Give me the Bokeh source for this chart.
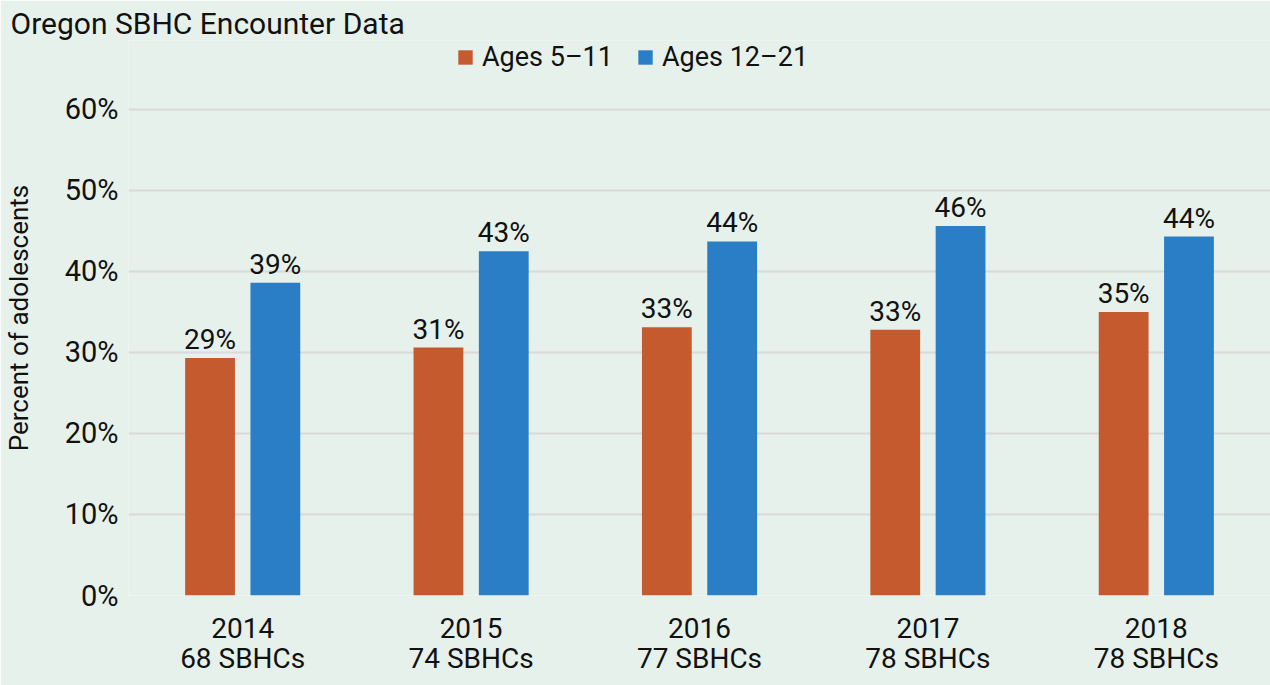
from bokeh.plotting import figure
from bokeh.models import (ColumnDataSource, FactorRange, Range1d, LabelSet, Title,
                          Legend, LegendItem, FixedTicker, CategoricalAxis,
                          CustomJSTickFormatter)
from bokeh.transform import dodge
from bokeh.core.properties import value
from bokeh.embed import file_html
from bokeh.resources import INLINE

# ---- data ----
years = ["2014", "2015", "2016", "2017", "2018"]
sbhc_counts = ["68 SBHCs", "74 SBHCs", "77 SBHCs", "78 SBHCs", "78 SBHCs"]
ages_5_11 = [29.3, 30.6, 33.1, 32.8, 35.0]
ages_12_21 = [38.6, 42.5, 43.7, 45.6, 44.3]
labels_5_11 = ["29%", "31%", "33%", "33%", "35%"]
labels_12_21 = ["39%", "43%", "44%", "46%", "44%"]
series_names = ["Ages 5\u201311", "Ages 12\u201321"]
y_ticks = [0, 10, 20, 30, 40, 50, 60]
title_text = "Oregon SBHC Encounter Data"
y_title = "Percent of adolescents"

# ---- style ----
FONT = "Roboto"
BG = "#e7f1ec"
ORANGE = "#c55a2e"
BLUE = "#2a7ec5"
GRID = "#d9d9d9"
INK = "#111111"

src = ColumnDataSource(dict(year=years, a=ages_5_11, b=ages_12_21,
                            la=labels_5_11, lb=labels_12_21))

p = figure(width=1270, height=685, x_range=FactorRange(*years, range_padding=0),
           y_range=Range1d(0, 68.5), output_backend="svg", toolbar_location=None,
           title=None, min_border_left=124, min_border_right=0,
           min_border_top=40, min_border_bottom=90)
p.background_fill_color = BG
p.border_fill_color = BG
p.outline_line_color = None

r1 = p.vbar(x=dodge("year", -0.143, range=p.x_range), top="a", width=0.218,
            source=src, fill_color=ORANGE, line_color=None)
r2 = p.vbar(x=dodge("year", 0.143, range=p.x_range), top="b", width=0.218,
            source=src, fill_color=BLUE, line_color=None)

for col, lab, off in (("a", "la", -0.143), ("b", "lb", 0.143)):
    p.add_layout(LabelSet(x=dodge("year", off, range=p.x_range), y=col, text=lab,
                          source=src, y_offset=9, text_align="center",
                          text_baseline="alphabetic", text_font=value(FONT),
                          text_font_size="28px", text_color=INK))

# grid
p.xgrid.grid_line_color = None
p.ygrid.grid_line_color = GRID
p.ygrid.grid_line_width = 2

# y axis
p.yaxis.ticker = FixedTicker(ticks=y_ticks)
p.yaxis.major_label_overrides = {t: f"{t}%" for t in y_ticks}
p.yaxis.major_label_standoff = 10
p.yaxis.axis_label = y_title
p.yaxis.axis_label_standoff = 28
p.yaxis.axis_label_text_font = FONT
p.yaxis.axis_label_text_font_size = "26px"
p.yaxis.axis_label_text_font_style = "normal"
p.yaxis.axis_label_text_color = INK
p.yaxis.major_label_text_font_size = "29px"

# x axes: year row and SBHC count row
p.xaxis.major_label_standoff = 22
p.xaxis.major_label_text_font_size = "28px"
ax2 = CategoricalAxis(formatter=CustomJSTickFormatter(
                          args=dict(m=dict(zip(years, sbhc_counts))),
                          code="return m[tick]"),
                      major_label_standoff=1, major_label_text_font_size="28px")
p.add_layout(ax2, "below")

for ax in (p.xaxis[0], ax2, p.yaxis[0]):
    ax.axis_line_color = None
    ax.major_tick_line_color = None
    ax.minor_tick_line_color = None
    ax.major_tick_out = 0
    ax.major_tick_in = 0
    ax.major_label_text_font = FONT
    ax.major_label_text_color = INK

# chart title above the plot
p.add_layout(Title(text=title_text, align="left", offset=-118, standoff=0,
                   text_font=FONT, text_font_size="30px", text_font_style="normal",
                   text_color=INK), "above")

# legend inside the (upward-extended) frame
legend = Legend(items=[LegendItem(label=series_names[0], renderers=[r1]),
                       LegendItem(label=series_names[1], renderers=[r2])],
                orientation="horizontal", location=(328, 522),
                glyph_width=18, glyph_height=18, label_standoff=8, spacing=23,
                padding=0, margin=0, border_line_color=None,
                background_fill_alpha=0, label_text_font=FONT,
                label_text_font_size="27px", label_text_color=INK)
p.add_layout(legend)

open("out.html", "w").write(file_html(p, INLINE))
